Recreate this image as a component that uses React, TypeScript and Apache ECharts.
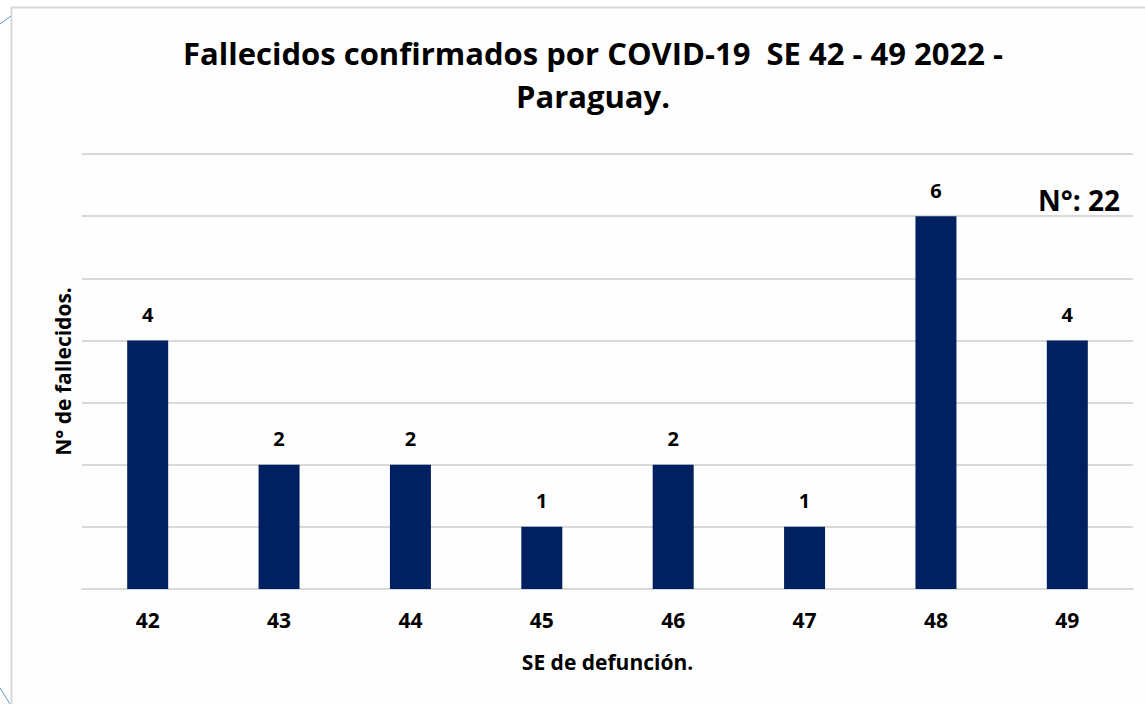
import React, { useEffect, useRef } from "react";
import * as echarts from "echarts";

const categories = ["42", "43", "44", "45", "46", "47", "48", "49"];
const deaths = [4, 2, 2, 1, 2, 1, 6, 4];
const titleLines = ["Fallecidos confirmados por COVID-19  SE 42 - 49 2022 -", "Paraguay."];
const totalLabel = "N°: 22";
const yMax = 7;
const yInterval = 1;

const FONT = "'Open Sans', sans-serif";

export default function App() {
  const ref = useRef<HTMLDivElement>(null);
  useEffect(() => {
    if (!ref.current) return;
    const chart = echarts.init(ref.current, undefined, { renderer: "svg" });
    chart.setOption({
      animation: false,
      backgroundColor: "#ffffff",
      title: {
        text: titleLines.join("\n"),
        left: 588,
        textAlign: "center",
        top: 26,
        textStyle: {
          fontFamily: FONT,
          fontWeight: "bold",
          fontSize: 31,
          lineHeight: 43,
          color: "#000000",
        },
      },
      graphic: [
        {
          type: "rect",
          shape: { x: 11.5, y: 7.5, width: 1145, height: 710 },
          style: { fill: "#fefefe", stroke: "#d9d9d9", lineWidth: 2 },
          z: -10,
          silent: true,
        },
        {
          type: "line",
          shape: { x1: 0, y1: 24, x2: 11, y2: 16 },
          style: { stroke: "#5b9bd5", lineWidth: 1 },
          silent: true,
        },
        {
          type: "line",
          shape: { x1: 0, y1: 688, x2: 10, y2: 704 },
          style: { stroke: "#5b9bd5", lineWidth: 1 },
          silent: true,
        },
        {
          type: "text",
          x: 1120,
          y: 200,
          style: {
            text: totalLabel,
            fontFamily: FONT,
            fontWeight: "bold",
            fontSize: 28,
            fill: "#000000",
            textAlign: "right",
            textVerticalAlign: "middle",
          },
          z: 10,
        },
      ],
      grid: { left: 82, right: 12, top: 154, bottom: 115 },
      xAxis: {
        type: "category",
        data: categories,
        axisLine: { lineStyle: { color: "#d9d9d9", width: 2 } },
        axisTick: { show: false },
        axisLabel: {
          fontFamily: FONT,
          fontWeight: "bold",
          fontSize: 21,
          color: "#000000",
          margin: 20,
        },
        name: "SE de defunción.",
        nameLocation: "middle",
        nameGap: 62,
        nameTextStyle: {
          fontFamily: FONT,
          fontWeight: "bold",
          fontSize: 21,
          color: "#000000",
        },
      },
      yAxis: {
        type: "value",
        min: 0,
        max: yMax,
        interval: yInterval,
        axisLabel: { show: false },
        axisLine: { show: false },
        axisTick: { show: false },
        splitLine: { lineStyle: { color: "#d9d9d9", width: 2 } },
        name: "N° de fallecidos.",
        nameLocation: "middle",
        nameGap: 9,
        nameTextStyle: {
          fontFamily: FONT,
          fontWeight: "bold",
          fontSize: 21,
          color: "#000000",
        },
      },
      series: [
        {
          type: "bar",
          data: deaths,
          barWidth: 41,
          itemStyle: { color: "#002060" },
          label: {
            show: true,
            position: "top",
            distance: 16,
            fontFamily: FONT,
            fontWeight: "bold",
            fontSize: 20,
            color: "#000000",
          },
        },
      ],
    });
    return () => chart.dispose();
  }, []);
  return (
    <div
      ref={ref}
      style={{ position: "fixed", left: 0, top: 0, width: 1145, height: 704 }}
    />
  );
}
